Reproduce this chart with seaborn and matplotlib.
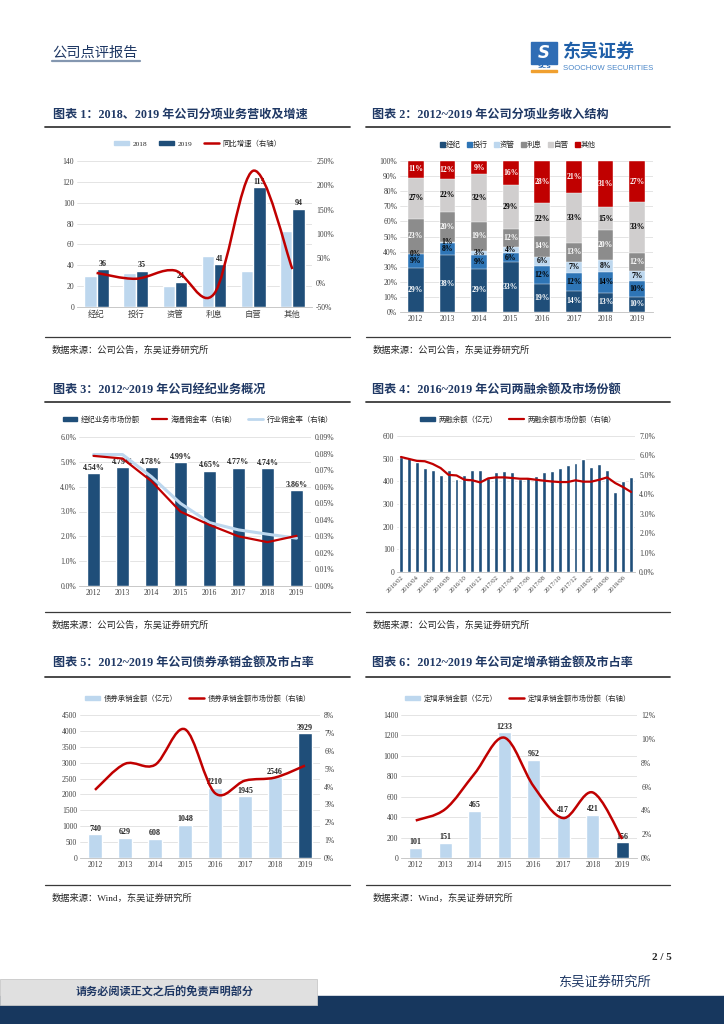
import numpy as np
import pandas as pd
import matplotlib
matplotlib.use('Agg')
import matplotlib.pyplot as plt
import seaborn as sns
from matplotlib.path import Path
from matplotlib.patches import PathPatch, Rectangle, Patch
from matplotlib.lines import Line2D
from matplotlib.ticker import FuncFormatter, MultipleLocator

# ---- chart 1: segment revenue 2018 / 2019 (亿元) and growth (%)
seg_cats = ['经纪', '投行', '资管', '利息', '自营', '其他']
seg_2018 = [30, 33, 20, 49, 35, 73]
seg_2019 = [36, 35, 24, 41, 115, 94]
seg_growth = [20, 8, 25, -23, 230, 28]

# ---- chart 2: revenue mix 2012-2019 (%)
years = ['2012', '2013', '2014', '2015', '2016', '2017', '2018', '2019']
mix_names = ['经纪', '投行', '资管', '利息', '自营', '其他']
mix_jingji = [29, 38, 29, 33, 19, 14, 13, 10]
mix_touhang = [9, 8, 9, 6, 12, 12, 14, 10]
mix_ziguan = [0, 1, 3, 4, 6, 7, 8, 7]
mix_lixi = [23, 20, 19, 12, 14, 13, 20, 12]
mix_ziying = [27, 22, 32, 29, 22, 33, 15, 33]
mix_other = [11, 12, 9, 16, 28, 21, 31, 27]

# ---- chart 3: brokerage share (%) and commission rates (%)
broker_share = [4.54, 4.79, 4.78, 4.99, 4.65, 4.77, 4.74, 3.86]
haitong_rate = [0.0786, 0.0770, 0.0633, 0.0449, 0.0369, 0.0300, 0.0265, 0.0303]
industry_rate = [0.0794, 0.0794, 0.0660, 0.0499, 0.0383, 0.0339, 0.0313, 0.0289]

# ---- chart 4: margin financing balance (亿元) and market share (%)
margin_months = ['2016/02', '2016/03', '2016/04', '2016/05', '2016/06', '2016/07',
                 '2016/08', '2016/09', '2016/10', '2016/11', '2016/12', '2017/01',
                 '2017/02', '2017/03', '2017/04', '2017/05', '2017/06', '2017/07',
                 '2017/08', '2017/09', '2017/10', '2017/11', '2017/12', '2018/01',
                 '2018/02', '2018/04', '2018/06', '2018/12', '2019/06', '2019/09']
margin_balance = [506, 503, 487, 458, 452, 429, 451, 410, 430, 449, 452, 415,
                  442, 447, 439, 412, 421, 425, 441, 447, 461, 472, 482, 500,
                  464, 476, 450, 351, 400, 421]
margin_share = [5.92, 5.82, 5.72, 5.70, 5.56, 5.35, 5.00, 4.97, 4.75, 4.72, 4.61, 4.82,
                4.87, 4.87, 4.84, 4.80, 4.80, 4.75, 4.70, 4.66, 4.63, 4.63, 4.72, 4.65,
                4.65, 4.75, 4.87, 4.58, 4.37, 4.12]
margin_ticks = ['2016/02', '2016/04', '2016/06', '2016/08', '2016/10', '2016/12',
                '2017/02', '2017/04', '2017/06', '2017/08', '2017/10', '2017/12',
                '2018/02', '2018/06', '2019/06']

# ---- chart 5: bond underwriting (亿元) and share (%)
bond_amt = [740, 629, 608, 1048, 2210, 1945, 2546, 3929]
bond_share = [3.81, 5.27, 5.21, 7.20, 3.63, 4.33, 4.50, 5.17]

# ---- chart 6: private placement underwriting (亿元) and share (%)
pp_amt = [101, 151, 465, 1233, 962, 417, 421, 156]
pp_share = [3.15, 4.10, 7.10, 10.10, 6.00, 3.35, 5.50, 1.60]

DARK = '#1F4E79'
MID = '#2E75B6'
LIGHT = '#BDD7EE'
RED = '#C00000'
GRAY = '#8C8C8C'
LGRAY = '#D0CECE'
NAVY = '#1F3864'
TICK = '#404040'

sns.set_style('white')
plt.rcParams['font.family'] = ['Liberation Serif', 'Noto Sans CJK SC']
plt.rcParams['axes.unicode_minus'] = False
CJK = ['Noto Sans CJK SC', 'DejaVu Sans']
SER = ['Liberation Serif', 'Noto Sans CJK SC']

W, H = 724, 1024
fig = plt.figure(figsize=(W / 100, H / 100), dpi=100)


def rect(x0, y0, x1, y1):
    return [x0 / W, 1 - y1 / H, (x1 - x0) / W, (y1 - y0) / H]


def fy(y):
    return 1 - y / H


def hline(x0, x1, y, color='#404040', lw=1.0):
    fig.add_artist(Line2D([x0 / W, x1 / W], [fy(y), fy(y)], color=color, lw=lw,
                          transform=fig.transFigure))


def smooth_path(xs, ys):
    # cubic bezier through the points (excel style smoothed line)
    pts = np.column_stack([xs, ys]).astype(float)
    n = len(pts)
    verts = [pts[0]]
    codes = [Path.MOVETO]
    for i in range(n - 1):
        p0 = pts[i - 1] if i > 0 else pts[i]
        p1, p2 = pts[i], pts[i + 1]
        p3 = pts[i + 2] if i + 2 < n else pts[i + 1]
        verts += [p1 + (p2 - p0) / 6, p2 - (p3 - p1) / 6, p2]
        codes += [Path.CURVE4] * 3
    return Path(verts, codes)


def style(ax, grid=True):
    ax.set_facecolor('none')
    for s in ['left', 'right', 'top']:
        ax.spines[s].set_visible(False)
    ax.spines['bottom'].set_color('#BFBFBF')
    ax.spines['bottom'].set_linewidth(0.6)
    if grid:
        ax.grid(axis='y', color='#D9D9D9', lw=0.5)
    ax.set_axisbelow(True)
    ax.tick_params(length=0, labelsize=5.5, colors=TICK, pad=2)
    ax.set_xlabel('')
    ax.set_ylabel('')


def style2(ax2):
    for s in ax2.spines.values():
        s.set_visible(False)
    ax2.tick_params(length=0, labelsize=5.5, colors=TICK, pad=3)
    ax2.set_ylabel('')


def legend(ax, handles, labels, cx, y):
    ax.legend(handles, labels, loc='center', bbox_to_anchor=(cx / W, fy(y)),
              bbox_transform=fig.transFigure, ncol=len(handles), frameon=False,
              prop={'family': SER, 'size': 5.3}, handlelength=2.0, handleheight=0.6,
              columnspacing=1.6, handletextpad=0.5)


# ================= page header / footer =================
fig.text(52 / W, fy(53), '公司点评报告', fontsize=10.3, color='#1F3864', va='center', family=CJK)
hline(52, 140, 61, color='#8497B0', lw=1.6)
fig.add_artist(Rectangle((531 / W, fy(64)), 26 / W, 22 / H, color='#2F6DB5',
                         transform=fig.transFigure))
fig.text(544 / W, fy(53), 'S', fontsize=12, color='white', fontweight='bold',
         ha='center', va='center', family=['DejaVu Sans'], style='italic')
fig.text(544 / W, fy(67), 'SCS', fontsize=4.5, color='#2F6DB5', fontweight='bold',
         ha='center', va='center', family=['DejaVu Sans'])
fig.add_artist(Rectangle((531 / W, fy(71.5)), 26 / W, 1.6 / H, color='#F0A030',
                         transform=fig.transFigure))
fig.text(563 / W, fy(51), '东吴证券', fontsize=13, color='#1F5FA8', fontweight='bold',
         va='center', family=CJK)
fig.text(563 / W, fy(68), 'SOOCHOW SECURITIES', fontsize=5.6, color='#4A86C8',
         va='center', family=['Liberation Sans'])

fig.text(672 / W, fy(957), '2 / 5', fontsize=8, fontweight='bold', ha='right',
         va='center', family=SER)
fig.text(651 / W, fy(982), '东吴证券研究所', fontsize=9.5, color=NAVY, ha='right',
         va='center', family=CJK)
fig.add_artist(Rectangle((0, 0), 1, 28 / H, color='#17375E', transform=fig.transFigure))
fig.add_artist(Rectangle((0, fy(1005)), 317 / W, 26 / H, facecolor='#E0E0E0',
                         edgecolor='#C8C8C8', lw=0.6, transform=fig.transFigure, zorder=3))
fig.text(165 / W, fy(992), '请务必阅读正文之后的免责声明部分', fontsize=8, color=NAVY,
         fontweight='bold', ha='center', va='center', family=CJK, zorder=4)

# ================= section frames =================
titles = [
    (53, 115, '图表 1：2018、2019 年公司分项业务营收及增速'),
    (372, 115, '图表 2：2012~2019 年公司分项业务收入结构'),
    (53, 390, '图表 3：2012~2019 年公司经纪业务概况'),
    (372, 390, '图表 4：2016~2019 年公司两融余额及市场份额'),
    (53, 663, '图表 5：2012~2019 年公司债券承销金额及市占率'),
    (372, 663, '图表 6：2012~2019 年公司定增承销金额及市占率'),
]
for x, y, t in titles:
    fig.text(x / W, fy(y), t, fontsize=8.7, fontweight='bold', color=NAVY,
             va='center', family=SER)
for ytop, ybot, ysrc, src in [(127, 337, 350, '数据来源：公司公告，东吴证券研究所'),
                               (402, 612, 625, '数据来源：公司公告，东吴证券研究所'),
                               (677, 885, 898, '数据来源：Wind，东吴证券研究所')]:
    for x0, x1 in [(45, 350), (366, 670)]:
        hline(x0, x1, ytop, color='#3A3A3A', lw=1.3)
        hline(x0, x1, ybot, color='#3A3A3A', lw=0.9)
        fig.text((x0 + 7) / W, fy(ysrc), src, fontsize=6.7, va='center', family=SER)

# ================= chart 1 =================
ax = fig.add_axes(rect(77, 161, 312, 307))
df1 = pd.DataFrame({'cat': seg_cats * 2, 'val': seg_2018 + seg_2019,
                    'year': ['2018'] * 6 + ['2019'] * 6})
sns.barplot(data=df1, x='cat', y='val', hue='year', palette=[LIGHT, DARK],
            width=0.63, gap=0, ax=ax, legend=False, saturation=1)
style(ax)
ax.set_ylim(0, 140)
ax.yaxis.set_major_locator(MultipleLocator(20))
ax.set_xlim(-0.5, 5.5)
for lab in ax.get_xticklabels():
    lab.set_family(CJK)
    lab.set_fontsize(6)
for i, v in enumerate(seg_2019):
    ax.text(i + 0.1575, v + 1.5, f'{v}', ha='center', va='bottom', fontsize=5.8,
            fontweight='bold', family=SER)
ax2 = ax.twinx()
style2(ax2)
ax2.set_ylim(-50, 250)
ax2.yaxis.set_major_locator(MultipleLocator(50))
ax2.yaxis.set_major_formatter(FuncFormatter(lambda v, _: f'{v:.0f}%'))
ax2.add_patch(PathPatch(smooth_path(np.arange(6), seg_growth), facecolor='none',
                        edgecolor=RED, lw=1.8, zorder=5))
legend(ax2, [Patch(color=LIGHT), Patch(color=DARK), Line2D([], [], color=RED, lw=1.8)],
       ['2018', '2019', '同比增速（右轴）'], 198, 143)

# ================= chart 2 =================
ax = fig.add_axes(rect(400, 161, 653, 312))
layers = [mix_jingji, mix_touhang, mix_ziguan, mix_lixi, mix_ziying, mix_other]
mix_colors = [DARK, MID, LIGHT, GRAY, LGRAY, RED]
label_colors = ['white', 'black', 'black', 'white', 'black', 'white']
arr = np.array(layers, dtype=float)
arr = arr / arr.sum(axis=0) * 100
cum = arr.cumsum(axis=0)
for k in range(5, -1, -1):
    sns.barplot(x=years, y=cum[k], color=mix_colors[k], width=0.5, ax=ax,
                edgecolor='white', linewidth=0.3, saturation=1)
style(ax)
ax.set_ylim(0, 100)
ax.set_xlim(-0.5, 7.5)
ax.yaxis.set_major_locator(MultipleLocator(10))
ax.yaxis.set_major_formatter(FuncFormatter(lambda v, _: f'{v:.0f}%'))
for k in range(6):
    for i in range(8):
        mid = cum[k, i] - arr[k, i] / 2
        ax.text(i, mid, f'{layers[k][i]}%', ha='center', va='center', fontsize=5.5,
                fontweight='bold', color=label_colors[k], family=SER)
ax.legend([Patch(color=c) for c in mix_colors], mix_names, loc='center',
          bbox_to_anchor=(518 / W, fy(145)), bbox_transform=fig.transFigure, ncol=6,
          frameon=False, prop={'family': CJK, 'size': 5.4}, handlelength=0.6,
          handleheight=0.6, columnspacing=0.8, handletextpad=0.2)

# ================= chart 3 =================
ax = fig.add_axes(rect(79, 437, 311, 586))
sns.barplot(x=years, y=broker_share, color=DARK, saturation=1, width=0.48, ax=ax)
style(ax)
ax.set_ylim(0, 6)
ax.set_xlim(-0.5, 7.5)
ax.yaxis.set_major_locator(MultipleLocator(1))
ax.yaxis.set_major_formatter(FuncFormatter(lambda v, _: f'{v:.1f}%'))
for i, v in enumerate(broker_share):
    ax.text(i, v + 0.06, f'{v:.2f}%', ha='center', va='bottom', fontsize=5.8,
            fontweight='bold', family=SER)
ax2 = ax.twinx()
style2(ax2)
sns.lineplot(x=np.arange(8), y=industry_rate, color=LIGHT, lw=2.2, ax=ax2)
sns.lineplot(x=np.arange(8), y=haitong_rate, color=RED, lw=1.6, ax=ax2)
ax2.set_ylim(0, 0.09)
ax2.set_xlim(-0.5, 7.5)
ax2.yaxis.set_major_locator(MultipleLocator(0.01))
ax2.yaxis.set_major_formatter(FuncFormatter(lambda v, _: f'{v:.2f}%'))
ax2.set_ylabel('')
legend(ax2, [Patch(color=DARK), Line2D([], [], color=RED, lw=1.6),
             Line2D([], [], color=LIGHT, lw=2.0)],
       ['经纪业务市场份额', '海通佣金率（右轴）', '行业佣金率（右轴）'], 198, 419)

# ================= chart 4 =================
ax = fig.add_axes(rect(397, 436, 635, 572))
n4 = len(margin_balance)
sns.barplot(x=margin_months, y=margin_balance, color=DARK, saturation=1, width=0.5, ax=ax)
style(ax)
ax.set_ylim(0, 600)
ax.set_xlim(-0.5, n4 - 0.5)
ax.yaxis.set_major_locator(MultipleLocator(100))
ax.set_xticks(np.arange(0, n4, 2))
ax.set_xticklabels(margin_ticks, rotation=45, ha='right', rotation_mode='anchor',
                   fontsize=4.8)
ax2 = ax.twinx()
style2(ax2)
sns.lineplot(x=np.arange(n4), y=margin_share, color=RED, lw=1.6, ax=ax2)
ax2.set_ylim(0, 7)
ax2.set_xlim(-0.5, n4 - 0.5)
ax2.yaxis.set_major_locator(MultipleLocator(1))
ax2.yaxis.set_major_formatter(FuncFormatter(lambda v, _: f'{v:.1f}%'))
ax2.set_ylabel('')
legend(ax2, [Patch(color=DARK), Line2D([], [], color=RED, lw=1.6)],
       ['两融余额（亿元）', '两融余额市场份额（右轴）'], 518, 419)

# ================= chart 5 =================
ax = fig.add_axes(rect(80, 715, 320, 858))
sns.barplot(x=years, y=bond_amt, hue=years, palette=[LIGHT] * 7 + [DARK], saturation=1,
            width=0.45, ax=ax, legend=False)
style(ax)
ax.set_ylim(0, 4500)
ax.set_xlim(-0.5, 7.5)
ax.yaxis.set_major_locator(MultipleLocator(500))
for i, v in enumerate(bond_amt):
    ax.text(i, v + 50, f'{v}', ha='center', va='bottom', fontsize=5.8,
            fontweight='bold', family=SER)
ax2 = ax.twinx()
style2(ax2)
ax2.set_ylim(0, 8)
ax2.set_xlim(-0.5, 7.5)
ax2.yaxis.set_major_locator(MultipleLocator(1))
ax2.yaxis.set_major_formatter(FuncFormatter(lambda v, _: f'{v:.0f}%'))
ax2.add_patch(PathPatch(smooth_path(np.arange(8), bond_share), facecolor='none',
                        edgecolor=RED, lw=1.8, zorder=5))
legend(ax2, [Patch(color=LIGHT), Line2D([], [], color=RED, lw=1.8)],
       ['债券承销金额（亿元）', '债券承销金额市场份额（右轴）'], 198, 698)

# ================= chart 6 =================
ax = fig.add_axes(rect(401, 715, 637, 858))
sns.barplot(x=years, y=pp_amt, hue=years, palette=[LIGHT] * 7 + [DARK], saturation=1,
            width=0.45, ax=ax, legend=False)
style(ax)
ax.set_ylim(0, 1400)
ax.set_xlim(-0.5, 7.5)
ax.yaxis.set_major_locator(MultipleLocator(200))
for i, v in enumerate(pp_amt):
    ax.text(i, v + 15, f'{v}', ha='center', va='bottom', fontsize=5.8,
            fontweight='bold', family=SER)
ax2 = ax.twinx()
style2(ax2)
ax2.set_ylim(0, 12)
ax2.set_xlim(-0.5, 7.5)
ax2.yaxis.set_major_locator(MultipleLocator(2))
ax2.yaxis.set_major_formatter(FuncFormatter(lambda v, _: f'{v:.0f}%'))
ax2.add_patch(PathPatch(smooth_path(np.arange(8), pp_share), facecolor='none',
                        edgecolor=RED, lw=1.8, zorder=5))
legend(ax2, [Patch(color=LIGHT), Line2D([], [], color=RED, lw=1.8)],
       ['定增承销金额（亿元）', '定增承销金额市场份额（右轴）'], 518, 698)

fig.savefig('out.png', dpi=100)
